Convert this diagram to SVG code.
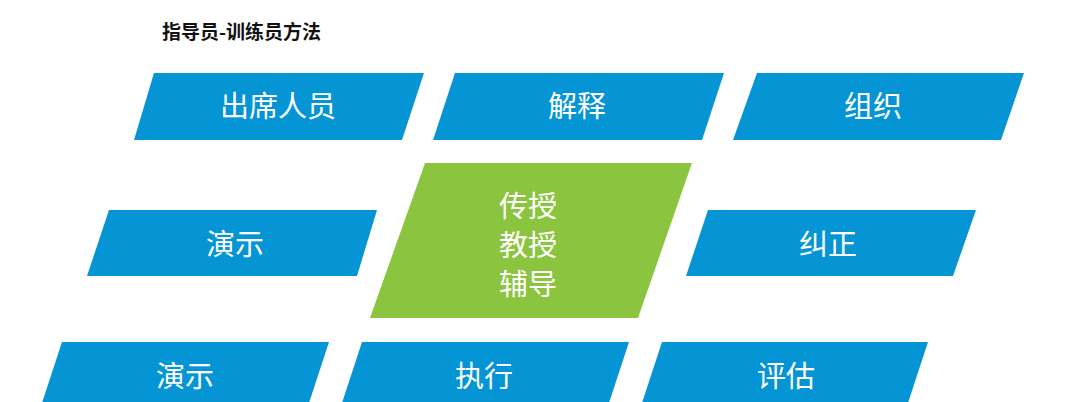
<svg xmlns="http://www.w3.org/2000/svg" width="1080" height="402" viewBox="0 0 1080 402">
<style>
.b{fill:#0595D5}
.g{fill:#8BC53F}
.t{font-family:"Noto Sans CJK SC","Noto Sans",sans-serif;font-size:29px;fill:#ffffff;text-anchor:middle;dominant-baseline:central}
.h{font-family:"Noto Sans CJK SC","Noto Sans",sans-serif;font-size:19px;font-weight:bold;fill:#111111}
</style>
<rect width="1080" height="402" fill="#ffffff"/>
<text class="h" x="162" y="39">指导员-训练员方法</text>
<g id="n1"><polygon class="b" points="154,73 424,73 402,140 134,140"/><text class="t" x="278" y="104">出席人员</text></g>
<g id="n2"><polygon class="b" points="455,73 724,73 702,140 433,140"/><text class="t" x="577" y="104">解释</text></g>
<g id="n3"><polygon class="b" points="757,73 1024,73 1001,140 733,140"/><text class="t" x="873" y="104">组织</text></g>
<g id="n4"><polygon class="b" points="109,210 377,210 357,276 87,276"/><text class="t" x="235" y="242">演示</text></g>
<g id="n5"><polygon class="g" points="425,163 692,163 638,318 370,318"/><text class="t" x="528" y="204">传授</text><text class="t" x="528" y="243">教授</text><text class="t" x="528" y="282">辅导</text></g>
<g id="n6"><polygon class="b" points="708,210 976,210 953,276 686,276"/><text class="t" x="828" y="242">纠正</text></g>
<g id="n7"><polygon class="b" points="62,342 329,342 307,409 40,409"/><text class="t" x="185" y="374">演示</text></g>
<g id="n8"><polygon class="b" points="362,342 629,342 607,409 340,409"/><text class="t" x="484" y="374">执行</text></g>
<g id="n9"><polygon class="b" points="662,342 928,342 906,409 640,409"/><text class="t" x="786" y="374">评估</text></g>
<g id="connectors"></g>
</svg>
